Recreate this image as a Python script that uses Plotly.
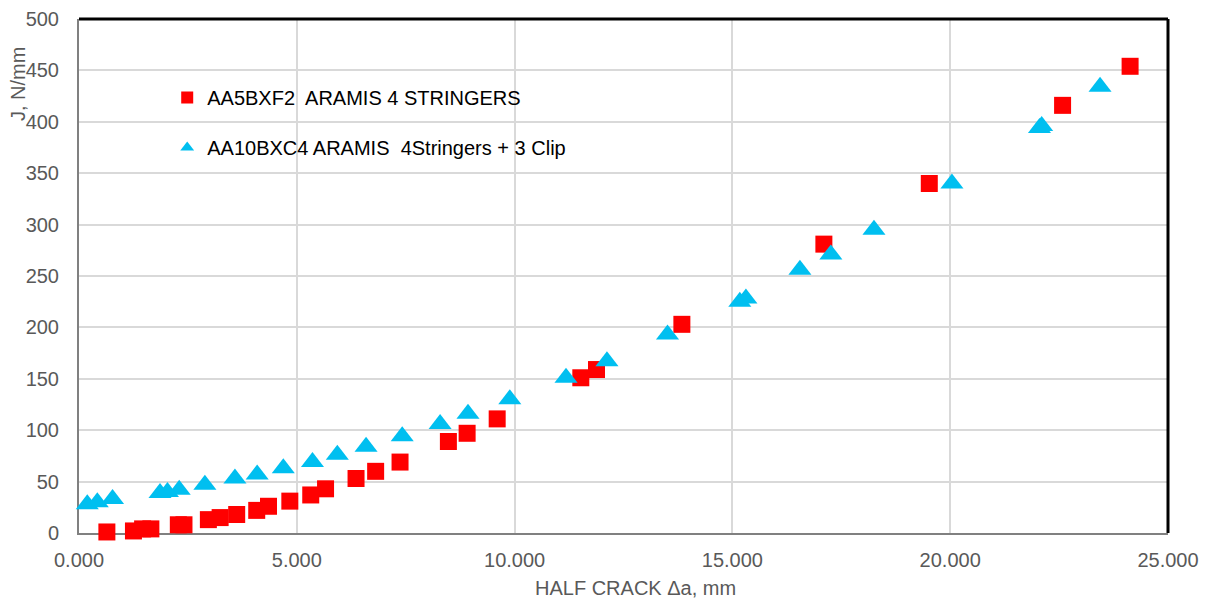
import plotly.graph_objects as go

# Series 1: AA5BXF2 ARAMIS 4 STRINGERS (red squares)
red_x = [0.64, 1.25, 1.46, 1.65, 2.28, 2.41, 2.97, 3.24, 3.62, 4.08, 4.35, 4.84, 5.32, 5.66,
         6.36, 6.81, 7.37, 8.48, 8.91, 9.60, 11.52, 11.88, 13.84, 17.10, 19.52, 22.58, 24.13]
red_y = [1, 2, 4, 4, 8, 8, 13, 15, 18, 22, 26, 31, 37, 43,
         53, 60, 69, 89, 97, 111, 151, 159, 203, 281, 340, 416, 454]

# Series 2: AA10BXC4 ARAMIS 4Stringers + 3 Clip (blue triangles)
blue_x = [0.19, 0.42, 0.77, 1.86, 2.03, 2.30, 2.89, 3.58, 4.09, 4.69, 5.36, 5.93, 6.59, 7.42,
          8.29, 8.93, 9.89, 11.18, 12.12, 13.51, 15.17, 15.31, 16.55, 17.26, 18.25, 20.04,
          22.05, 22.10, 23.44]
blue_y = [28, 30, 33, 39, 40, 42, 47, 53, 57, 63, 69, 76, 84, 94,
          106, 116, 130, 151, 167, 193, 225, 228, 256, 271, 295, 340,
          394, 396, 434]

series_names = ["AA5BXF2  ARAMIS 4 STRINGERS", "AA10BXC4 ARAMIS  4Stringers + 3 Clip"]
x_ticks = [0, 5, 10, 15, 20, 25]
y_ticks = list(range(0, 501, 50))
x_title = "HALF CRACK \u0394a, mm"
y_title = "J, N/mm"

FONT = "Liberation Sans, Arial, sans-serif"
GRAY = "#595959"
FS = 20

fig = go.Figure()
fig.add_trace(go.Scatter(
    x=red_x, y=red_y, mode="markers", name=series_names[0], legendgroup="a",
    marker=dict(symbol="square", size=17, color="#FF0000"), cliponaxis=False))
fig.add_trace(go.Scatter(
    x=blue_x, y=blue_y, mode="markers", name=series_names[1], legendgroup="b",
    marker=dict(symbol="triangle-up", size=20, color="#00BFF0"), cliponaxis=False))

fig.update_layout(
    width=1206, height=590,
    margin=dict(l=71, r=46, t=11, b=65, autoexpand=False),
    paper_bgcolor="white", plot_bgcolor="white",
    font=dict(family=FONT, size=FS, color=GRAY),
    showlegend=True,
    legend=dict(x=0.081, y=0.885, xanchor="left", yanchor="top",
                bgcolor="rgba(0,0,0,0)", font=dict(size=FS, color="black", family=FONT),
                tracegroupgap=21, itemsizing="constant"),
    xaxis=dict(range=[0, 25], tickvals=x_ticks, tickformat=".3f",
               showgrid=True, gridcolor="#d9d9d9", gridwidth=1.5,
               showline=True, linecolor="#808080", linewidth=2,
               zeroline=False, ticks="", ticklabelstandoff=8, automargin=False,
               tickfont=dict(size=FS, color=GRAY), layer="below traces"),
    yaxis=dict(range=[0, 500], tickvals=y_ticks,
               showgrid=True, gridcolor="#d9d9d9", gridwidth=1.5,
               showline=True, linecolor="#808080", linewidth=2,
               zeroline=False, ticks="", ticklabelstandoff=14, automargin=False,
               tickfont=dict(size=FS, color=GRAY), layer="below traces"),
    shapes=[
        dict(type="line", xref="paper", yref="paper", x0=0, x1=1, y0=1, y1=1,
             line=dict(color="black", width=3)),
        dict(type="line", xref="paper", yref="paper", x0=1, x1=1, y0=0, y1=1,
             line=dict(color="black", width=3)),
    ],
    annotations=[
        dict(text=y_title, xref="paper", yref="paper", x=-0.056, y=0.8735,
             textangle=-90, showarrow=False, xanchor="center", yanchor="middle",
             font=dict(size=FS, color=GRAY, family=FONT)),
        dict(text=x_title, xref="paper", yref="paper", x=0.5106, y=-0.107,
             showarrow=False, xanchor="center", yanchor="middle",
             font=dict(size=FS, color=GRAY, family=FONT)),
    ],
)

fig.write_html("out.html")
